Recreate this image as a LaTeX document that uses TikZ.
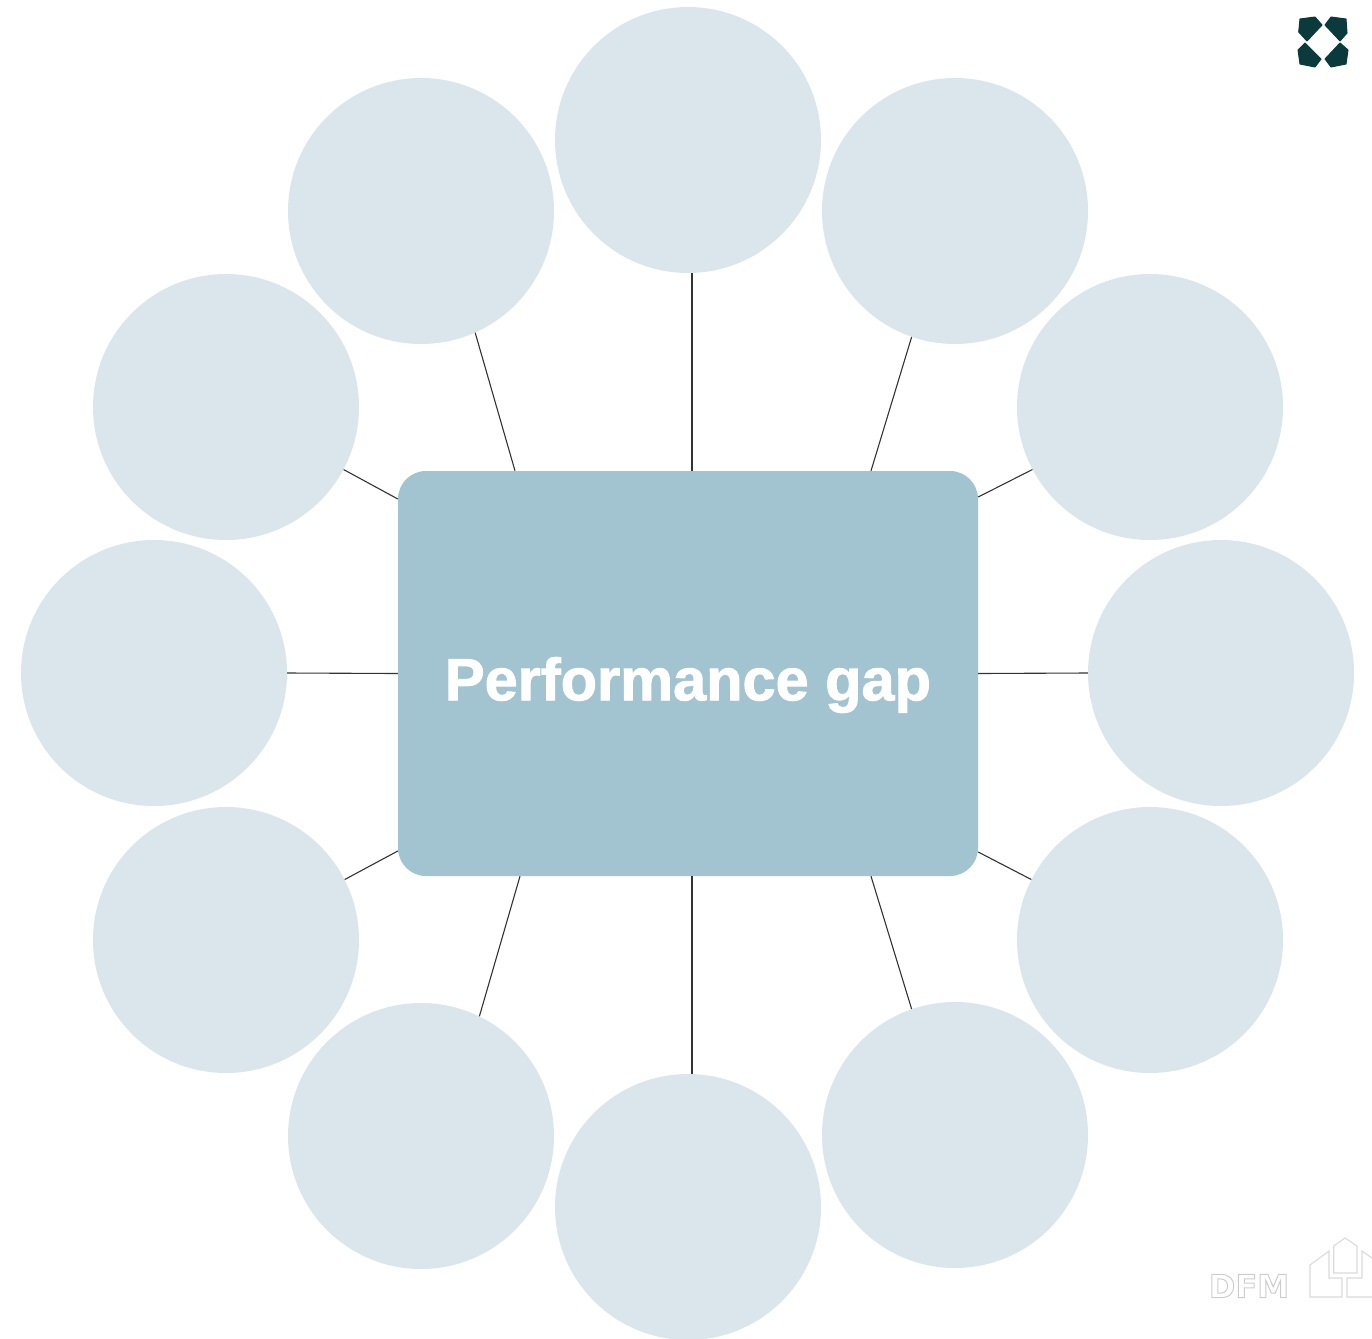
\documentclass[tikz,border=0pt]{standalone}
\usepackage{fontspec}
\setmainfont{Liberation Sans}[BoldFeatures={FakeBold=1.6}]

\definecolor{bubblefill}{HTML}{DAE6EC}
\definecolor{hubfill}{HTML}{A2C3D0}
\definecolor{logodark}{HTML}{0A3A3C}
\definecolor{markgray}{HTML}{DADADA}

\tikzset{
  bubble/.style={circle, fill=bubblefill, inner sep=0pt, minimum size=266pt},
  hubbox/.style={rectangle, rounded corners=28pt, fill=hubfill, inner sep=0pt, minimum width=580pt, minimum height=405pt},
  spoke/.style={draw=black!80, line width=1.1pt},
  logopiece/.style={fill=logodark, draw=logodark, line width=1pt, line join=round},
  housemark/.style={draw=markgray, line width=1.1pt}
}

\begin{document}
\begin{tikzpicture}[x=1pt, y=-1pt]
\useasboundingbox (0,0) rectangle (1372,1338);

\node[bubble] at (688,140) (topc) {};
\node[bubble] at (421,211) (nnw) {};
\node[bubble] at (955,211) (nne) {};
\node[bubble] at (226,407) (wnw) {};
\node[bubble] at (1150,407) (ene) {};
\node[bubble] at (154,673) (west) {};
\node[bubble] at (1221,673) (east) {};
\node[bubble] at (226,940) (wsw) {};
\node[bubble] at (1150,940) (ese) {};
\node[bubble] at (421,1136) (ssw) {};
\node[bubble] at (955,1135) (sse) {};
\node[bubble] at (688,1207) (botc) {};

\node[hubbox] at (688,673.5) (hub) {};
\node[text=white, font=\bfseries] at (688,685) (title) {\fontsize{59.5}{59.5}\selectfont Performance gap};

% spokes, top half
\draw[spoke] ([xshift=4pt]hub.north) -- ([xshift=4pt]topc.south);
\draw[spoke] ([xshift=-173pt]hub.north) -- (nnw.-66.7);
\draw[spoke] ([xshift=183pt]hub.north) -- (nne.-109.1);
\draw[spoke] ([yshift=174.5pt]hub.west) -- (wnw.-28.7);
\draw[spoke] ([yshift=176.5pt]hub.east) -- (ene.208.3);
% spokes, middle
\draw[spoke] (hub.west) -- (west.east);
\draw[spoke] (hub.east) -- (east.west);
% spokes, bottom half
\draw[spoke] ([yshift=-177.5pt]hub.west) -- (wsw.27.7);
\draw[spoke] ([yshift=-178.5pt]hub.east) -- (ese.153.2);
\draw[spoke] ([xshift=-168pt]hub.south) -- (ssw.64.8);
\draw[spoke] ([xshift=183pt]hub.south) -- (sse.109.4);
\draw[spoke] ([xshift=4pt]hub.south) -- ([xshift=4pt]botc.north);

% logo top right
\filldraw[logopiece] (1300,19) -- (1315,17) -- (1322,25) -- (1307,41) -- (1298.7,32) -- cycle;
\filldraw[logopiece] (1331,17) -- (1346,19) -- (1347,33) -- (1340,41) -- (1325,25) -- cycle;
\filldraw[logopiece] (1305,43) -- (1321,59) -- (1315,67) -- (1300,64) -- (1298,50) -- cycle;
\filldraw[logopiece] (1340,43) -- (1348,50) -- (1346,64) -- (1331,67) -- (1325,59) -- cycle;

% watermark bottom right
\node[inner sep=0pt] at (1249,1286) (markname) {\fontspec{DejaVu Sans}\fontsize{32}{32}\selectfont\bfseries\special{pdf:code q 1 Tr 1 w 0.8 G}DFM\special{pdf:code Q}};
\draw[housemark] (1345,1238) -- (1357,1246) -- (1357,1273) -- (1333.7,1273) -- (1333.7,1246) -- cycle;
\draw[housemark] (1329,1251) -- (1310,1265) -- (1310,1297) -- (1342,1297) -- (1342,1278) -- (1329,1278) -- cycle;
\draw[housemark] (1372,1297) -- (1347,1297) -- (1347,1278) -- (1362,1278) -- (1362,1251) -- (1372,1258);

\end{tikzpicture}
\end{document}
